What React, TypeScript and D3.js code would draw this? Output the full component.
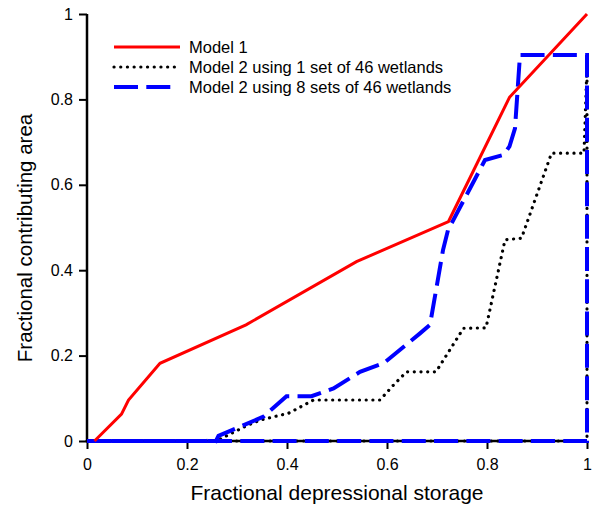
import React, { useEffect, useRef } from 'react'
import * as d3 from 'd3'

// Model 1
const model1X = [0.015, 0.069, 0.083, 0.146, 0.318, 0.539, 0.723, 0.845, 1.0]
const model1Y = [0, 0.063, 0.096, 0.182, 0.272, 0.42, 0.514, 0.805, 1.0]

// Model 2, 1 set of 46 wetlands
const oneSetX = [0, 0.26, 0.269, 0.316, 0.346, 0.403, 0.453, 0.586, 0.613, 0.639, 0.698, 0.753, 0.798, 0.836, 0.869, 0.929, 0.994, 1.0, 1.0, 0]
const oneSetY = [0, 0, 0.006, 0.034, 0.049, 0.065, 0.096, 0.096, 0.131, 0.162, 0.162, 0.264, 0.265, 0.471, 0.475, 0.674, 0.674, 0.88, 0, 0]

// Model 2, 8 sets of 46 wetlands
const eightSetX = [0, 0.24, 0.25, 0.258, 0.263, 0.353, 0.399, 0.449, 0.493, 0.546, 0.593, 0.666, 0.686, 0.712, 0.722, 0.796, 0.833, 0.845, 0.856, 0.866, 1.0, 1.0, 0]
const eightSetY = [0, 0, 0.004, 0, 0.012, 0.057, 0.105, 0.105, 0.123, 0.162, 0.182, 0.252, 0.272, 0.447, 0.494, 0.658, 0.67, 0.69, 0.732, 0.904, 0.904, 0, 0]

const tickValues = [0, 0.2, 0.4, 0.6, 0.8, 1]
const tickLabels = ['0', '0.2', '0.4', '0.6', '0.8', '1']

const legendLabels = ['Model 1', 'Model 2 using 1 set of 46 wetlands', 'Model 2 using 8 sets of 46 wetlands']

const width = 592
const height = 506
const margin = { top: 14, right: 5, bottom: 65, left: 87 }
const font = 'Arial, "Liberation Sans", sans-serif'

const App = () => {
  const ref = useRef<SVGSVGElement>(null)

  useEffect(() => {
    const svg = d3.select(ref.current)
    svg.selectAll('*').remove()

    const x = d3.scaleLinear().domain([0, 1]).range([margin.left, width - margin.right])
    const y = d3.scaleLinear().domain([0, 1]).range([height - margin.bottom, margin.top])

    const line = d3.line<[number, number]>()
      .x(d => x(d[0]))
      .y(d => y(d[1]))

    const zip = (xs: number[], ys: number[]) => xs.map((v, i) => [v, ys[i]] as [number, number])

    // axes
    const xAxis = svg.append('g')
      .attr('transform', `translate(0,${y(0)})`)
      .call(d3.axisBottom(x).tickValues(tickValues).tickSize(8).tickPadding(6)
        .tickFormat((d, i) => tickLabels[i]))
    const yAxis = svg.append('g')
      .attr('transform', `translate(${x(0)},0)`)
      .call(d3.axisLeft(y).tickValues(tickValues).tickSize(8).tickPadding(6)
        .tickFormat((d, i) => tickLabels[i]))

    for (const ax of [xAxis, yAxis]) {
      ax.select('.domain').attr('stroke', 'black').attr('stroke-width', 2.5)
      ax.selectAll('.tick line').attr('stroke', 'black').attr('stroke-width', 2)
      ax.selectAll('.tick text')
        .attr('fill', 'black')
        .style('font-family', font)
        .style('font-size', '16px')
    }
    yAxis.select('.domain').attr('d', `M0,${y(0)}V${y(1)}`)
    xAxis.select('.domain').attr('d', `M${x(0)},0H${x(1)}`)
    xAxis.selectAll('.tick text').attr('dy', '0.95em')

    // series
    svg.append('path')
      .datum(zip(oneSetX, oneSetY))
      .attr('fill', 'none')
      .attr('stroke', 'black')
      .attr('stroke-width', 3.2)
      .attr('stroke-linecap', 'round')
      .attr('stroke-dasharray', '0.1 6.6')
      .attr('d', line)

    svg.append('path')
      .datum(zip(eightSetX, eightSetY))
      .attr('fill', 'none')
      .attr('stroke', '#0000ff')
      .attr('stroke-width', 4)
      .attr('stroke-dasharray', '24 8.3')
      .attr('d', line)

    svg.append('path')
      .datum(zip(model1X, model1Y))
      .attr('fill', 'none')
      .attr('stroke', '#ff0000')
      .attr('stroke-width', 3)
      .attr('d', line)

    // legend
    const legend = svg.append('g')
    const styles = [
      { stroke: '#ff0000', width: 3, dash: null, cap: 'butt', len: 66 },
      { stroke: 'black', width: 3.2, dash: '0.1 6.6', cap: 'round', len: 66 },
      { stroke: '#0000ff', width: 4, dash: '24 8.3', cap: 'butt', len: 57 },
    ]
    legendLabels.forEach((label, i) => {
      const ly = 47 + i * 20
      const s = styles[i]
      legend.append('line')
        .attr('x1', 114).attr('x2', 114 + s.len)
        .attr('y1', ly).attr('y2', ly)
        .attr('stroke', s.stroke)
        .attr('stroke-width', s.width)
        .attr('stroke-linecap', s.cap)
        .attr('stroke-dasharray', s.dash)
      legend.append('text')
        .attr('x', 189).attr('y', ly)
        .attr('dy', '0.36em')
        .style('font-family', font)
        .style('font-size', '16.5px')
        .attr('fill', 'black')
        .text(label)
    })

    // axis titles
    svg.append('text')
      .attr('x', x(0.5))
      .attr('y', 500)
      .attr('text-anchor', 'middle')
      .style('font-family', font)
      .style('font-size', '21px')
      .attr('fill', 'black')
      .text('Fractional depressional storage')

    svg.append('text')
      .attr('transform', `translate(32,${238}) rotate(-90)`)
      .attr('text-anchor', 'middle')
      .style('font-family', font)
      .style('font-size', '20.5px')
      .attr('fill', 'black')
      .text('Fractional contributing area')

    return () => { svg.selectAll('*').remove() }
  }, [])

  return (
    <div style={{ position: 'absolute', left: 0, top: 0 }}>
      <svg ref={ref} width={width} height={height} style={{ display: 'block', background: 'white' }} />
    </div>
  )
}

export default App
